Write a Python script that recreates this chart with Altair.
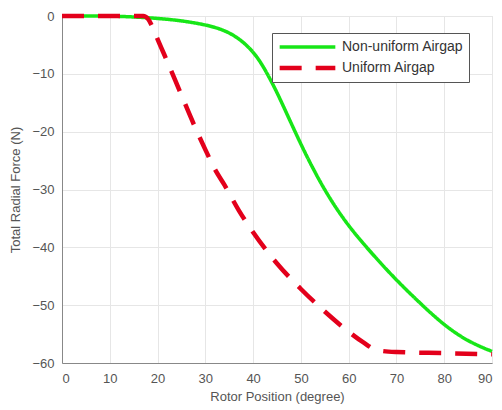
import altair as alt
import pandas as pd

# Non-uniform airgap (green, solid)
green_x = [0, 10, 15, 20, 25, 30, 33, 35, 37, 39, 41, 43, 45, 47, 49, 51, 54, 57, 60, 63, 66, 69, 72, 75, 80, 85, 90]
green_y = [0, 0, -0.15, -0.4, -0.8, -1.5, -2.2, -2.9, -3.9, -5.3, -7.2, -10.0, -13.2, -16.8, -20.4, -23.9, -28.7, -32.8, -36.3, -39.3, -42.1, -44.8, -47.3, -49.7, -53.5, -56.3, -58.0]

# Uniform airgap (red, dashed)
red_x = [0, 10, 17, 18, 19, 20, 22, 25, 28, 30, 32, 34, 37, 40, 45, 50, 55, 60, 63, 66, 70, 80, 90]
red_y = [0, 0, 0, -0.5, -2.0, -4.0, -7.8, -13.7, -19.5, -23.1, -26.5, -29.2, -33.6, -37.4, -42.8, -47.2, -51.1, -54.6, -56.4, -57.8, -58.1, -58.3, -58.5]

series_names = ["Non-uniform Airgap", "Uniform Airgap"]

font = "Liberation Sans"
xs = alt.Scale(domain=[0, 90], nice=False, zero=False)
ys = alt.Scale(domain=[-60, 0], nice=False, zero=False)

df = pd.concat([
    pd.DataFrame({"x": green_x, "y": green_y, "s": series_names[0]}),
    pd.DataFrame({"x": red_x, "y": red_y, "s": series_names[1]}),
])

leg = dict(
    title=None, orient="none", legendX=210, legendY=17,
    fillColor="white", strokeColor="#555", padding=5,
    labelFont=font, labelFontSize=14, labelColor="#333",
    symbolType="stroke", symbolSize=3100, symbolStrokeWidth=4,
    rowPadding=3, labelOffset=4, clipHeight=18,
)

x_enc = alt.X("x:Q", scale=xs, axis=alt.Axis(
    title="Rotor Position (degree)", values=list(range(0, 91, 10)),
    grid=True, gridColor="#e6e6e6", ticks=False,
    domainColor="#888", labelColor="#555", labelFontSize=13, labelFont=font,
    titleFont=font, titleFontSize=13, titleColor="#555", titleFontWeight="normal",
    labelPadding=9, titlePadding=5))
y_enc = alt.Y("y:Q", scale=ys, axis=alt.Axis(
    title="Total Radial Force (N)", values=list(range(-60, 1, 10)),
    grid=True, gridColor="#e6e6e6", ticks=False,
    domainColor="#888", labelColor="#555", labelFontSize=13, labelFont=font,
    titleFont=font, titleFontSize=13, titleColor="#555", titleFontWeight="normal",
    labelPadding=8, titlePadding=9))
color_enc = alt.Color("s:N", scale=alt.Scale(domain=series_names, range=["#17e617", "#e3001b"]),
                      legend=alt.Legend(**leg))
dash_enc = alt.StrokeDash("s:N", scale=alt.Scale(domain=series_names, range=[[1, 0], [22, 14]]),
                          legend=alt.Legend(**leg))
width_enc = alt.StrokeWidth("s:N", scale=alt.Scale(domain=series_names, range=[3.5, 4.5]), legend=None)

base = alt.Chart(df).encode(x=x_enc, y=y_enc, color=color_enc, strokeDash=dash_enc, strokeWidth=width_enc)

green_line = base.transform_filter(alt.datum.s == series_names[0]).mark_line(interpolate="basis")
red_line = base.transform_filter(alt.datum.s == series_names[1]).mark_line(interpolate="monotone")

chart = alt.layer(green_line, red_line).properties(
    width=430, height=347,
    autosize=alt.AutoSizeParams(type="none"),
    padding={"left": 54, "top": 8, "right": 2, "bottom": 44},
).configure_view(stroke="#888").configure(background="white")

chart.save("out.html", embed_options={"renderer": "svg", "actions": False})
